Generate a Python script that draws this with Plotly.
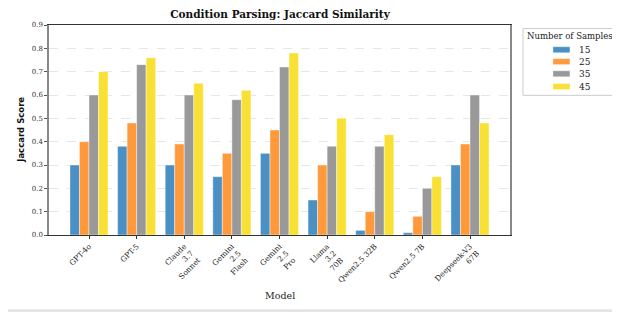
import plotly.graph_objects as go

models = ["GPT-4o", "GPT-5", "Claude<br>3.7<br>Sonnet", "Gemini<br>2.5<br>Flash", "Gemini<br>2.5<br>Pro",
          "Llama<br>3.2<br>70B", "Qwen2.5 32B", "Qwen2.5 7B", "Deepseek-V3<br>67B"]
samples_15 = [0.30, 0.38, 0.30, 0.25, 0.35, 0.15, 0.02, 0.01, 0.30]
samples_25 = [0.40, 0.48, 0.39, 0.35, 0.45, 0.30, 0.10, 0.08, 0.39]
samples_35 = [0.60, 0.73, 0.60, 0.58, 0.72, 0.38, 0.38, 0.20, 0.60]
samples_45 = [0.70, 0.76, 0.65, 0.62, 0.78, 0.50, 0.43, 0.25, 0.48]
series_names = ["15", "25", "35", "45"]
colors = ["#4A90C4", "#FF9A3C", "#999999", "#F9E035"]
yticks = [0.0, 0.1, 0.2, 0.3, 0.4, 0.5, 0.6, 0.7, 0.8, 0.9]

x = list(range(len(models)))
fig = go.Figure()
for name, vals, c in zip(series_names, [samples_15, samples_25, samples_35, samples_45], colors):
    fig.add_trace(go.Bar(x=x, y=vals, name=name, showlegend=False,
                         marker=dict(color=c, line=dict(color="rgba(255,255,255,0.7)", width=0.6))))

# page is offset by 8px (body margin); work in page coordinates and convert
OFF = 8
W, H = 612, 304
def fx(px):  # page x -> figure x
    return px - OFF
def fy(py):
    return py - OFF

L = fx(48.5)
T = fy(24.5)
R = W - fx(510)
B = H - fy(235)
pw, ph = W - L - R, H - T - B
def paper_x(px):
    return (fx(px) - L) / pw
def paper_y(py):
    return (H - B - fy(py)) / ph

annotations = [
    dict(text="Model", xref="paper", yref="paper", x=paper_x(280), y=paper_y(296),
         xanchor="center", yanchor="middle", showarrow=False,
         font=dict(family="DejaVu Serif", size=9.5, color="#222")),
    dict(text="<b>Jaccard Score</b>", xref="paper", yref="paper", x=paper_x(21), y=paper_y(130),
         xanchor="center", yanchor="middle", showarrow=False, textangle=-90,
         font=dict(family="DejaVu Sans", size=8.5, color="#111")),
    dict(text="Number of Samples", xref="paper", yref="paper", x=paper_x(570.5), y=paper_y(35.5),
         xanchor="center", yanchor="middle", showarrow=False,
         font=dict(family="DejaVu Serif", size=8.5, color="#222")),
]
shapes = [
    dict(type="rect", xref="paper", yref="paper", layer="below",
         x0=paper_x(0), x1=paper_x(620), y0=paper_y(309.5), y1=paper_y(320),
         fillcolor="#e4e4e4", line=dict(width=0)),
    dict(type="rect", xref="paper", yref="paper",
         x0=paper_x(523), x1=paper_x(617.5), y0=paper_y(28), y1=paper_y(95),
         fillcolor="white", line=dict(color="#cccccc", width=1)),
]
row_y = [49.3, 61.2, 73.4, 86.2]
for name, c, ry in zip(series_names, colors, row_y):
    shapes.append(dict(type="rect", xref="paper", yref="paper",
                       x0=paper_x(553), x1=paper_x(570), y0=paper_y(ry - 3), y1=paper_y(ry + 3),
                       fillcolor=c, line=dict(color="rgba(255,255,255,0.7)", width=0.5)))
    annotations.append(dict(text=name, xref="paper", yref="paper", x=paper_x(577), y=paper_y(ry),
                            xanchor="left", yanchor="middle", showarrow=False,
                            font=dict(family="DejaVu Serif", size=9, color="#222")))

fig.update_layout(
    width=W, height=H,
    margin=dict(l=L, r=R, t=T, b=B),
    paper_bgcolor="white",
    plot_bgcolor="white",
    showlegend=False,
    font=dict(family="DejaVu Serif", color="#222"),
    barmode="group", bargap=0.2, bargroupgap=0,
    title=dict(text="<b>Condition Parsing: Jaccard Similarity</b>", x=fx(280) / W, xanchor="center",
               y=1 - fy(14.5) / H, yanchor="middle", font=dict(family="DejaVu Serif", size=10.5, color="#111")),
    xaxis=dict(range=[-0.84, 8.84], tickmode="array", tickvals=x, ticktext=models, tickangle=-45,
               automargin=False,
               tickfont=dict(family="DejaVu Serif", size=7.5, color="#222"),
               showline=True, linecolor="#333", linewidth=1.2, mirror=True,
               ticks="outside", ticklen=3, tickcolor="#333", showgrid=False),
    yaxis=dict(range=[0, 0.9], tickmode="array", tickvals=yticks, ticktext=[f"{v:.1f}" for v in yticks],
               automargin=False,
               tickfont=dict(family="DejaVu Serif", size=7, color="#333"),
               showline=True, linecolor="#888", linewidth=1.5, mirror=True,
               ticks="outside", ticklen=3, tickcolor="#555",
               showgrid=True, gridcolor="#e6e6e6", griddash="dash", gridwidth=0.8, zeroline=False),
    annotations=annotations,
    shapes=shapes,
)

fig.write_html("out.html")
